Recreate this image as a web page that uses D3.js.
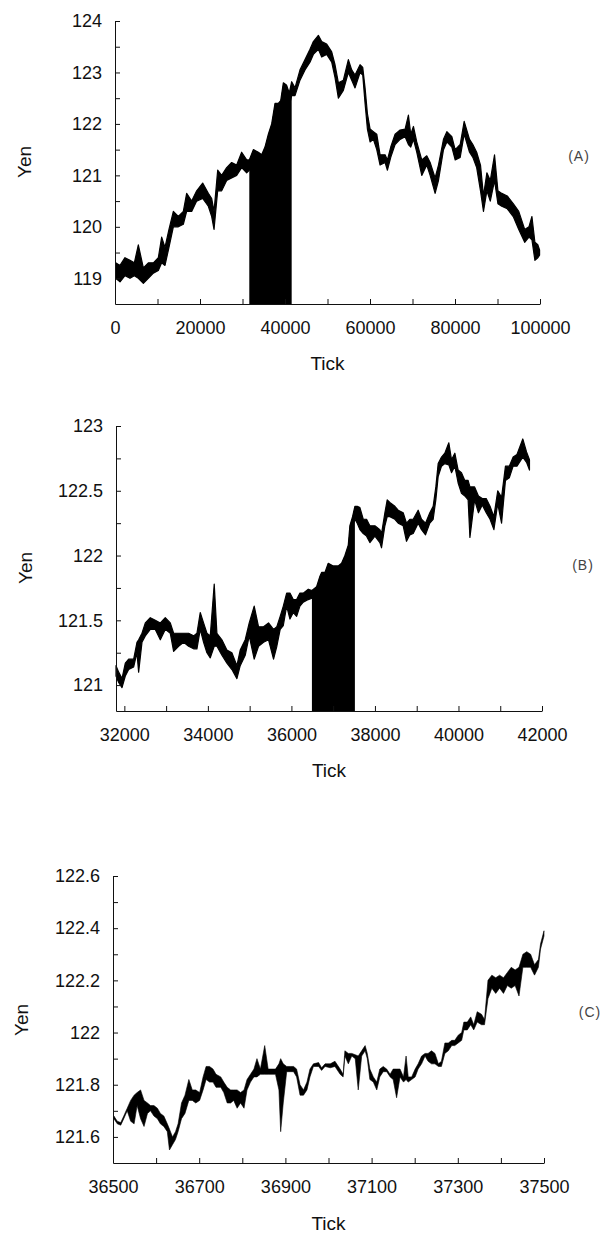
<!DOCTYPE html>
<html>
<head>
<meta charset="utf-8">
<script src="https://cdn.jsdelivr.net/npm/d3@7"></script>
<style>
  body { margin: 0; background: #fff; }
  text { font-family: "Liberation Sans", Arial, sans-serif; }
</style>
</head>
<body>
<div id="chart"></div>
<script>
// Panel (A): whole series, low/high of the price band read per step
const tickA = [160,1180,2350,3530,4550,5490,6670,7840,9020,10200,10980,11760,12700,13730,14900,16080,16860,18040,19220,20630,21960,22750,23300,24160,25100,26270,27450,28630,29800,30980,31600,32550,33730,34510,35290,36080,36860,37650,38430,38980,39610,40390,41000,41570,42350,43530,44710,45880,46670,47850,48630,49810,50990,51770,52560,53730,54910,55700,56480,57660,58290,58840,59390,60020,60800,61590,62370,63550,64100,64880,65900,67080,68260,69040,69590,70220,71000,72180,73360,74150,75320,76110,77290,78080,79260,80040,81220,82160,83420,84200,85100,86000,86700,87500,88300,89300,90100,91000,92300,93700,95000,96400,97400,98100,98800,99500,99900];
const loA = [119.0,118.93,119.05,119.0,119.05,119.0,118.9,119.0,119.1,119.15,119.3,119.25,119.6,120.0,120.0,120.05,120.3,120.3,120.5,120.55,120.4,120.2,119.95,120.7,120.7,120.9,120.95,121.0,121.15,121.05,121.1,121.25,121.25,121.2,121.35,121.6,121.8,122.1,122.2,122.2,122.5,122.45,122.35,122.55,122.55,122.85,123.05,123.2,123.35,123.45,123.3,123.35,123.2,122.9,122.5,122.65,123.0,122.85,122.7,123.0,122.95,122.4,121.9,121.65,121.7,121.5,121.2,121.25,121.1,121.35,121.6,121.7,121.75,121.6,121.55,121.7,121.45,121.0,121.2,121.0,120.65,120.9,121.5,121.65,121.55,121.3,121.35,121.8,121.45,121.35,121.15,120.7,120.3,120.7,120.5,120.9,120.45,120.4,120.35,120.2,119.95,119.7,119.8,119.75,119.35,119.4,119.45];
const hiA = [119.3,119.25,119.4,119.35,119.3,119.65,119.2,119.3,119.3,119.4,119.8,119.6,119.95,120.3,120.2,120.3,120.65,120.5,120.7,120.85,120.65,120.55,120.3,121.1,121.0,121.15,121.25,121.2,121.45,121.3,121.3,121.5,121.45,121.4,121.55,121.8,122.0,122.4,122.4,122.45,122.8,122.75,122.6,122.82,122.7,123.05,123.25,123.45,123.6,123.72,123.6,123.55,123.4,123.15,122.8,122.85,123.25,123.05,122.95,123.15,123.1,122.7,122.2,121.9,121.85,121.8,121.4,121.4,121.3,121.55,121.8,121.88,121.9,122.17,121.8,121.95,121.65,121.3,121.38,121.25,120.95,121.2,121.7,121.85,121.75,121.5,121.6,122.05,121.7,121.6,121.45,121.2,120.6,121.05,120.9,121.4,120.7,120.65,120.6,120.45,120.3,119.95,120.0,120.2,119.7,119.65,119.55];

// Panel (B): ticks 31800-42000
const tickB = [31800,31864,31944,32023,32103,32223,32302,32342,32422,32502,32621,32741,32861,32980,33100,33180,33299,33419,33538,33658,33738,33817,33897,33977,34057,34152,34216,34336,34455,34575,34695,34774,34894,34990,35109,35213,35333,35452,35572,35651,35731,35806,35886,35965,36045,36125,36204,36284,36404,36491,36603,36683,36723,36803,36882,37002,37121,37201,37281,37361,37400,37464,37520,37576,37640,37720,37799,37879,37999,38118,38158,38238,38294,38357,38477,38557,38676,38756,38836,38916,39035,39115,39211,39314,39394,39458,39514,39594,39673,39769,39833,39913,39992,40072,40152,40231,40274,40386,40478,40570,40664,40756,40848,40940,41032,41125,41217,41309,41401,41540,41630,41700];
const loB = [121.07,121.02,120.98,121.07,121.12,121.14,121.25,121.1,121.33,121.38,121.43,121.43,121.35,121.43,121.4,121.26,121.3,121.33,121.3,121.28,121.28,121.43,121.33,121.25,121.21,121.3,121.3,121.23,121.17,121.12,121.05,121.15,121.23,121.38,121.2,121.3,121.33,121.35,121.2,121.3,121.43,121.46,121.61,121.51,121.56,121.53,121.61,121.64,121.66,121.67,121.71,121.8,121.84,121.82,121.87,121.87,121.87,121.89,121.94,122.04,122.12,122.23,122.28,122.25,122.2,122.17,122.15,122.1,122.15,122.1,122.06,122.23,122.3,122.3,122.28,122.25,122.23,122.11,122.16,122.17,122.25,122.2,122.16,122.25,122.28,122.43,122.61,122.69,122.71,122.7,122.64,122.69,122.56,122.48,122.46,122.43,122.14,122.43,122.33,122.39,122.33,122.28,122.2,122.4,122.25,122.58,122.6,122.69,122.69,122.76,122.72,122.66];
const hiB = [121.15,121.1,121.05,121.17,121.2,121.2,121.33,121.35,121.4,121.48,121.52,121.5,121.48,121.52,121.48,121.4,121.4,121.4,121.4,121.38,121.4,121.56,121.48,121.4,121.38,121.78,121.4,121.35,121.27,121.25,121.15,121.27,121.35,121.48,121.61,121.45,121.45,121.48,121.43,121.45,121.53,121.61,121.71,121.71,121.66,121.66,121.71,121.71,121.74,121.73,121.76,121.84,121.87,121.87,121.94,121.92,121.92,121.94,122.0,122.08,122.23,122.3,122.38,122.38,122.37,122.28,122.28,122.23,122.23,122.2,122.17,122.33,122.43,122.41,122.38,122.35,122.33,122.25,122.28,122.28,122.35,122.28,122.25,122.33,122.38,122.53,122.71,122.76,122.79,122.87,122.74,122.79,122.66,122.64,122.58,122.58,122.53,122.53,122.46,122.44,122.44,122.38,122.3,122.5,122.45,122.69,122.69,122.76,122.78,122.9,122.8,122.74];

// Panel (C): ticks 36500-37500
const tickC = [36502,36510,36518,36525,36533,36541,36549,36556,36564,36572,36580,36587,36595,36603,36610,36618,36626,36631,36638,36645,36651,36659,36667,36676,36684,36692,36701,36709,36716,36724,36732,36739,36750,36757,36765,36773,36780,36788,36796,36804,36811,36819,36827,36834,36842,36852,36860,36869,36877,36885,36889,36895,36903,36911,36919,36926,36934,36942,36950,36957,36965,36977,36984,36992,37004,37015,37027,37034,37038,37046,37054,37062,37069,37077,37085,37090,37096,37104,37112,37119,37127,37135,37143,37150,37158,37166,37174,37180,37185,37193,37201,37208,37216,37224,37231,37239,37247,37255,37262,37270,37278,37286,37293,37301,37309,37314,37322,37330,37337,37345,37355,37362,37370,37379,37388,37397,37406,37415,37424,37433,37442,37451,37460,37469,37478,37487,37492,37500];
const loC = [121.67,121.65,121.645,121.67,121.7,121.66,121.65,121.72,121.67,121.64,121.69,121.7,121.68,121.67,121.65,121.64,121.62,121.55,121.57,121.59,121.62,121.67,121.69,121.74,121.74,121.73,121.74,121.78,121.82,121.81,121.81,121.79,121.79,121.77,121.73,121.73,121.74,121.71,121.73,121.71,121.78,121.81,121.83,121.83,121.84,121.84,121.84,121.84,121.84,121.78,121.62,121.73,121.85,121.85,121.85,121.83,121.76,121.76,121.78,121.83,121.87,121.87,121.855,121.87,121.865,121.87,121.84,121.83,121.91,121.88,121.91,121.9,121.78,121.91,121.93,121.9,121.82,121.81,121.78,121.83,121.85,121.85,121.83,121.82,121.75,121.83,121.81,121.82,121.81,121.82,121.83,121.86,121.88,121.91,121.89,121.88,121.88,121.87,121.87,121.92,121.93,121.95,121.95,121.96,121.97,122.01,122.01,122.03,122.01,122.04,122.03,122.03,122.13,122.17,122.15,122.17,122.15,122.18,122.17,122.18,122.14,122.25,122.25,122.25,122.22,122.25,122.32,122.37];
const hiC = [121.68,121.66,121.655,121.68,121.71,121.74,121.76,121.77,121.78,121.74,121.73,121.72,121.72,121.71,121.69,121.68,121.65,121.63,121.6,121.62,121.65,121.73,121.76,121.82,121.78,121.78,121.77,121.83,121.87,121.87,121.86,121.84,121.83,121.81,121.79,121.78,121.78,121.78,121.77,121.78,121.82,121.84,121.86,121.9,121.86,121.95,121.86,121.86,121.86,121.88,121.9,121.88,121.87,121.87,121.87,121.86,121.8,121.78,121.81,121.86,121.88,121.885,121.865,121.88,121.88,121.89,121.86,121.84,121.93,121.92,121.92,121.915,121.91,121.93,121.95,121.92,121.86,121.83,121.81,121.86,121.87,121.86,121.84,121.86,121.86,121.86,121.83,121.91,121.83,121.83,121.86,121.88,121.91,121.92,121.92,121.93,121.92,121.88,121.89,121.96,121.96,121.97,121.97,121.99,122.0,122.04,122.04,122.06,122.03,122.08,122.07,122.05,122.2,122.22,122.21,122.22,122.21,122.23,122.25,122.24,122.25,122.3,122.31,122.3,122.26,122.28,122.34,122.39];

// Axis tick values (labelled and unlabelled)
const xTicksA = [0, 20000, 40000, 60000, 80000, 100000];
const xMinorA = [10000, 30000, 50000, 70000, 90000];
const yTicksA = [119, 120, 121, 122, 123, 124];
const yMinorA = [119.5, 120.5, 121.5, 122.5, 123.5];

const xTicksB = [32000, 34000, 36000, 38000, 40000, 42000];
const xMinorB = [33000, 35000, 37000, 39000, 41000];
const yTicksB = [121, 121.5, 122, 122.5, 123];
const yMinorB = [121.25, 121.75, 122.25, 122.75];

const xTicksC = [36500, 36700, 36900, 37100, 37300, 37500];
const xMinorC = [36600, 36800, 37000, 37200, 37400];
const yTicksC = [121.6, 121.8, 122, 122.2, 122.4, 122.6];
const yMinorC = [121.7, 121.9, 122.1, 122.3, 122.5];

const svg = d3.select("#chart")
    .append("svg")
    .attr("width", 605)
    .attr("height", 1235);

const drawPanel = (p) => {
    const x = d3.scaleLinear().domain(p.xDomain).range([p.left, p.right]);
    const y = d3.scaleLinear().domain(p.yDomain).range([p.bottom, p.top]);
    const pts = p.tick.map((t, i) => ({ t: t, lo: p.lo[i], hi: p.hi[i] }));
    const g = svg.append("g");

    // black block = range shown enlarged in the next panel
    if (p.shade) {
        const sub = pts.filter(d => d.t >= p.shade[0] && d.t <= p.shade[1]);
        g.append("path")
            .datum(sub)
            .attr("d", d3.area().x(d => x(d.t)).y0(p.bottom).y1(d => y(d.hi)))
            .attr("fill", "#000");
    }

    // price band
    g.append("path")
        .datum(pts)
        .attr("d", d3.area().x(d => x(d.t)).y0(d => y(d.lo)).y1(d => y(d.hi)))
        .attr("fill", "#000")
        .attr("stroke", "#000")
        .attr("stroke-width", p.lineWidth)
        .attr("stroke-linejoin", "round");

    const xAxis = d3.axisBottom(x)
        .tickValues(p.xTicks.concat(p.xMinor))
        .tickFormat(v => p.xTicks.includes(v) ? String(v) : "")
        .tickSizeInner(-5)
        .tickSizeOuter(0)
        .tickPadding(17);

    const yAxis = d3.axisLeft(y)
        .tickValues(p.yTicks.concat(p.yMinor))
        .tickFormat(v => p.yTicks.includes(v) ? String(v) : "")
        .tickSizeInner(-5)
        .tickSizeOuter(0)
        .tickPadding(13);

    g.append("g")
        .attr("transform", `translate(0,${p.bottom})`)
        .call(xAxis)
        .attr("font-size", 18)
        .attr("font-family", "Liberation Sans, Arial, sans-serif")
        .attr("color", "#111");

    g.append("g")
        .attr("transform", `translate(${p.left},0)`)
        .call(yAxis)
        .attr("font-size", 18)
        .attr("font-family", "Liberation Sans, Arial, sans-serif")
        .attr("color", "#111");

    g.append("text")
        .attr("transform", `translate(${p.yenX},${p.yenY}) rotate(-90)`)
        .attr("text-anchor", "middle")
        .attr("dominant-baseline", "central")
        .style("font-size", "19px")
        .attr("fill", "#111")
        .text("Yen");

    g.append("text")
        .attr("x", (p.left + p.right) / 2)
        .attr("y", p.tickLabelY)
        .attr("text-anchor", "middle")
        .style("font-size", "19px")
        .attr("fill", "#111")
        .text("Tick");

    g.append("text")
        .attr("x", p.tagX)
        .attr("y", p.tagY)
        .attr("text-anchor", "middle")
        .attr("dominant-baseline", "central")
        .style("font-size", "14px")
        .style("letter-spacing", "1px")
        .attr("fill", "#444")
        .text(p.tag);
};

drawPanel({
    tick: tickA, lo: loA, hi: hiA,
    xDomain: [0, 100000], yDomain: [118.5, 124],
    left: 115, right: 540, top: 21, bottom: 304,
    xTicks: xTicksA, xMinor: xMinorA, yTicks: yTicksA, yMinor: yMinorA,
    shade: [31600, 41700], lineWidth: 1.2,
    yenX: 24, yenY: 162, tickLabelY: 370, tag: "(A)", tagX: 579, tagY: 156
});

drawPanel({
    tick: tickB, lo: loB, hi: hiB,
    xDomain: [31800, 42000], yDomain: [120.8, 123],
    left: 116, right: 542, top: 426, bottom: 711,
    xTicks: xTicksB, xMinor: xMinorB, yTicks: yTicksB, yMinor: yMinorB,
    shade: [36490, 37525], lineWidth: 1.2,
    yenX: 25, yenY: 568, tickLabelY: 777, tag: "(B)", tagX: 583, tagY: 565
});

drawPanel({
    tick: tickC, lo: loC, hi: hiC,
    xDomain: [36500, 37500], yDomain: [121.5, 122.6],
    left: 113, right: 544, top: 876, bottom: 1163,
    xTicks: xTicksC, xMinor: xMinorC, yTicks: yTicksC, yMinor: yMinorC,
    shade: null, lineWidth: 0.6,
    yenX: 21, yenY: 1020, tickLabelY: 1230, tag: "(C)", tagX: 590, tagY: 1012
});
</script>
</body>
</html>
